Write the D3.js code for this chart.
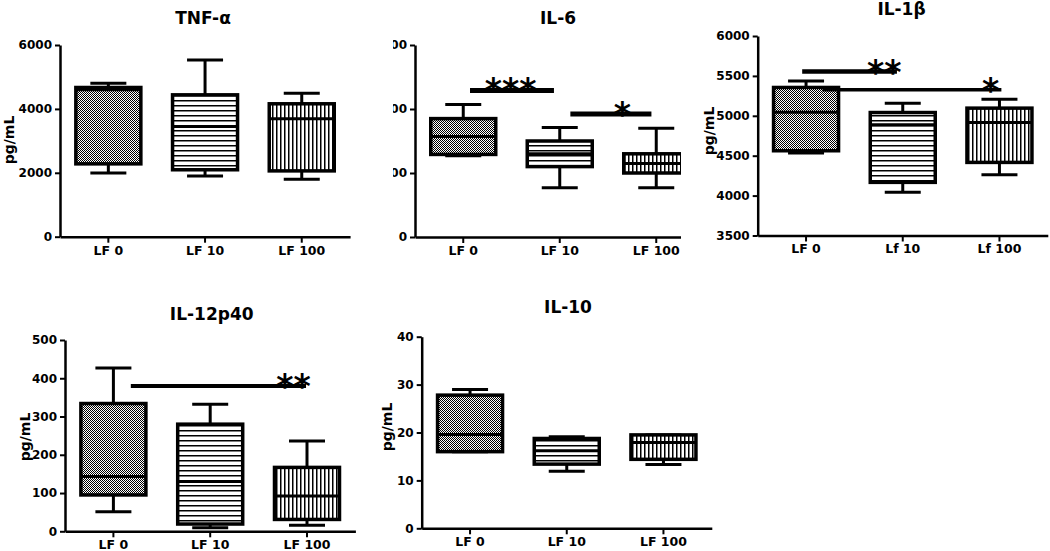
<!DOCTYPE html>
<html>
<head>
<meta charset="utf-8">
<script src="https://cdn.jsdelivr.net/npm/d3@7"></script>
<style>
  html, body { margin: 0; padding: 0; background: #fff; }
  svg { display: block; }
  text { font-family: "DejaVu Sans", "Liberation Sans", Arial, sans-serif; font-weight: bold; fill: #000; }
</style>
</head>
<body>
<svg id="chart" width="1050" height="551"></svg>
<script>
// ---------------- DATA ----------------
const categories = ["LF 0", "LF 10", "LF 100"];
const categoriesIL1b = ["LF 0", "Lf 10", "Lf 100"];

// each box: [whisker min, Q1, median, Q3, whisker max]
const tnfStats   = [[1990, 2280, 4600, 4670, 4800], [1900, 2095, 3450, 4440, 5530], [1800, 2060, 3690, 4160, 4490]];
const il6Stats   = [[127, 129, 157, 185, 207], [77, 110, 130, 150, 171], [77, 100, 115, 130, 170]];
const il1bStats  = [[4533, 4562, 5045, 5355, 5437], [4041, 4166, 4887, 5041, 5158], [4262, 4416, 4916, 5096, 5208]];
const il12Stats  = [[51, 95, 143, 334, 427], [9, 19, 130, 280, 332], [16, 31, 92, 167, 236]];
const il10Stats  = [[16, 16, 19.6, 27.8, 29], [11.9, 13.4, 16.2, 18.75, 19.1], [13.3, 14.4, 17.9, 19.5, 19.5]];

const tnfTicks  = [0, 2000, 4000, 6000];
const il6Ticks  = [0, 100, 200, 300];
const il1bTicks = [3500, 4000, 4500, 5000, 5500, 6000];
const il12Ticks = [0, 100, 200, 300, 400, 500];
const il10Ticks = [0, 10, 20, 30, 40];

// significance bars: from/to/star position in category units (0 = first category), y in data units
const il6Sig  = [{from: 0.07, to: 0.94, y: 229, star: 0.49, label: "***", w: 5},
                 {from: 1.11, to: 1.95, y: 192, star: 1.65, label: "*", w: 5}];
const il1bSig = [{from: -0.04, to: 0.94, y: 5554, star: 0.81, label: "**", w: 4.5},
                 {from: 0.17, to: 2.02, y: 5325, star: 1.91, label: "*", w: 3.5}];
const il12Sig = [{from: 0.18, to: 1.99, y: 380, star: 1.86, label: "**", w: 4}];

// ---------------- LAYOUT ----------------
const panels = [
  {title: "TNF-α", cats: categories, stats: tnfStats, domain: [0, 6000], ticks: tnfTicks, sig: [],
   ax: 60, top: 45, bottom: 236.7, step: 96.7, titleX: 203, titleY: 24, yl: [9, 140], clip: null},
  {title: "IL-6", cats: categories, stats: il6Stats, domain: [0, 300], ticks: il6Ticks, sig: il6Sig,
   ax: 415, top: 45, bottom: 237, step: 96.5, titleX: 558, titleY: 23.5, yl: [370, 140], clip: [393, 0, 288, 270]},
  {title: "IL-1β", cats: categoriesIL1b, stats: il1bStats, domain: [3500, 6000], ticks: il1bTicks, sig: il1bSig,
   ax: 757.7, top: 36, bottom: 235.5, step: 96.7, titleX: 901.5, titleY: 14.7, yl: [709, 131], clip: null},
  {title: "IL-12p40", cats: categories, stats: il12Stats, domain: [0, 500], ticks: il12Ticks, sig: il12Sig,
   ax: 65, top: 340, bottom: 531.3, step: 96.8, titleX: 211.7, titleY: 320, yl: [25, 437], clip: null},
  {title: "IL-10", cats: categories, stats: il10Stats, domain: [0, 40], ticks: il10Ticks, sig: [],
   ax: 421.7, top: 336.7, bottom: 528.3, step: 96.7, titleX: 568, titleY: 313.3, yl: [387, 427], clip: null}
];
const patternIds = ["checker", "hlines", "vlines"];
const boxW = 65, capW = 36;

// ---------------- DRAW ----------------
const svg = d3.select("#chart");
const defs = svg.append("defs");

const pc = defs.append("pattern").attr("id", "checker").attr("width", 2).attr("height", 2).attr("patternUnits", "userSpaceOnUse");
pc.append("rect").attr("width", 2).attr("height", 2).attr("fill", "#fff");
pc.append("rect").attr("width", 1).attr("height", 1).attr("fill", "#000");
pc.append("rect").attr("x", 1).attr("y", 1).attr("width", 1).attr("height", 1).attr("fill", "#000");

const ph = defs.append("pattern").attr("id", "hlines").attr("width", 10).attr("height", 5).attr("patternUnits", "userSpaceOnUse");
ph.append("rect").attr("width", 10).attr("height", 5).attr("fill", "#fff");
ph.append("rect").attr("width", 10).attr("height", 1.5).attr("fill", "#000");

const pv = defs.append("pattern").attr("id", "vlines").attr("width", 4).attr("height", 10).attr("patternUnits", "userSpaceOnUse");
pv.append("rect").attr("width", 4).attr("height", 10).attr("fill", "#fff");
pv.append("rect").attr("width", 1.5).attr("height", 10).attr("fill", "#000");

panels.forEach((p, pi) => {
  let g = svg.append("g");
  if (p.clip) {
    defs.append("clipPath").attr("id", "clip" + pi).append("rect")
      .attr("x", p.clip[0]).attr("y", p.clip[1]).attr("width", p.clip[2]).attr("height", p.clip[3]);
    g.attr("clip-path", `url(#clip${pi})`);
  }
  const x = d3.scaleBand().domain(p.cats).range([p.ax, p.ax + p.step * 3]).padding(0);
  const y = d3.scaleLinear().domain(p.domain).range([p.bottom, p.top]);
  const cx = c => x(c) + x.bandwidth() / 2;
  const catPos = t => d3.scaleLinear().domain([0, 2]).range([cx(p.cats[0]), cx(p.cats[2])])(t);

  // title
  g.append("text").attr("x", p.titleX).attr("y", p.titleY).attr("text-anchor", "middle")
    .style("font-size", "17px").text(p.title);
  // y label
  g.append("text").attr("transform", `translate(${p.yl[0]},${p.yl[1]}) rotate(-90)`)
    .attr("text-anchor", "middle").attr("dominant-baseline", "central")
    .style("font-size", "14px").text("pg/mL");

  // boxes
  p.stats.forEach((s, i) => {
    const c = cx(p.cats[i]);
    const [mn, q1, md, q3, mx] = s;
    const bg = g.append("g");
    bg.append("line").attr("x1", c).attr("x2", c).attr("y1", y(mn)).attr("y2", y(mx))
      .attr("stroke", "#000").attr("stroke-width", 3);
    [mn, mx].forEach(v => bg.append("line").attr("x1", c - capW / 2).attr("x2", c + capW / 2)
      .attr("y1", y(v)).attr("y2", y(v)).attr("stroke", "#000").attr("stroke-width", 3));
    bg.append("rect").attr("x", c - boxW / 2).attr("width", boxW)
      .attr("y", y(q3)).attr("height", y(q1) - y(q3))
      .attr("fill", `url(#${patternIds[i]})`).attr("stroke", "#000").attr("stroke-width", 3.5);
    bg.append("line").attr("x1", c - boxW / 2).attr("x2", c + boxW / 2)
      .attr("y1", y(md)).attr("y2", y(md)).attr("stroke", "#000").attr("stroke-width", 3);
  });

  // significance
  p.sig.forEach(s => {
    g.append("line").attr("x1", catPos(s.from)).attr("x2", catPos(s.to))
      .attr("y1", y(s.y)).attr("y2", y(s.y)).attr("stroke", "#000").attr("stroke-width", s.w);
    const fs = 33;
    g.append("text").attr("x", catPos(s.star)).attr("y", y(s.y) - 5.5 + 0.53 * fs)
      .attr("text-anchor", "middle").style("font-size", fs + "px").text(s.label);
  });

  // axes
  const yAxis = g.append("g").attr("transform", `translate(${p.ax},0)`)
    .call(d3.axisLeft(y).tickValues(p.ticks).tickSize(5).tickSizeOuter(0).tickPadding(3).tickFormat(d3.format("d")));
  const xAxis = g.append("g").attr("transform", `translate(0,${p.bottom})`)
    .call(d3.axisBottom(x).tickSize(6).tickSizeOuter(0).tickPadding(3));
  [yAxis, xAxis].forEach(a => {
    a.select(".domain").attr("stroke", "#000").attr("stroke-width", 2.5);
    a.selectAll(".tick line").attr("stroke", "#000").attr("stroke-width", 2);
    a.attr("font-family", null).attr("font-size", null);
  });
  yAxis.selectAll("text").style("font-size", "12px").attr("fill", "#000");
  xAxis.selectAll("text").style("font-size", "12.5px").attr("fill", "#000");
});
</script>
</body>
</html>
